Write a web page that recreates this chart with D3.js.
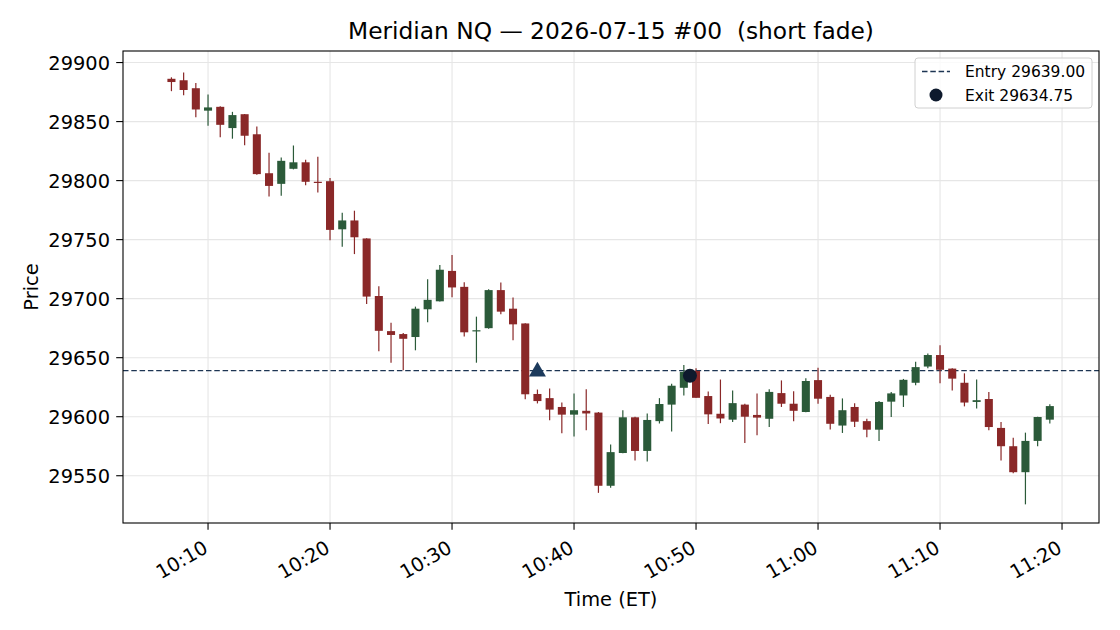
<!DOCTYPE html>
<html>
<head>
<meta charset="utf-8">
<script src="https://cdn.jsdelivr.net/npm/d3@7"></script>
<style>
  body { margin: 0; background: #fff; }
  text { font-family: "DejaVu Sans", sans-serif; fill: #000; }
</style>
</head>
<body>
<div id="chart"></div>
<script>
// one-minute bars, 10:07 .. 11:19 ET
var times = ["10:07","10:08","10:09","10:10","10:11","10:12","10:13","10:14","10:15","10:16",
    "10:17","10:18","10:19","10:20","10:21","10:22","10:23","10:24","10:25","10:26",
    "10:27","10:28","10:29","10:30","10:31","10:32","10:33","10:34","10:35","10:36",
    "10:37","10:38","10:39","10:40","10:41","10:42","10:43","10:44","10:45","10:46",
    "10:47","10:48","10:49","10:50","10:51","10:52","10:53","10:54","10:55","10:56",
    "10:57","10:58","10:59","11:00","11:01","11:02","11:03","11:04","11:05","11:06",
    "11:07","11:08","11:09","11:10","11:11","11:12","11:13","11:14","11:15","11:16",
    "11:17","11:18","11:19"];

var opens = [29886.25,29885,29878.25,29859.25,29862.5,29844.5,29856.25,29839.25,29806.25,29797.25,
    29810,29815.5,29799,29799.5,29758.75,29766.25,29751,29702.25,29672.5,29670,
    29667.5,29691,29697.75,29723.5,29710,29672.25,29675,29707.25,29691.5,29679,
    29619.25,29615.75,29608.25,29601.75,29605,29603.5,29541.5,29569.25,29599.5,29571,
    29596.25,29610.25,29624.5,29638.75,29617.5,29602.5,29597.5,29610.25,29601.5,29598.25,
    29620,29611,29604,29631,29616.75,29592.5,29608.25,29596.25,29589,29612.75,
    29618,29628.75,29642.5,29652.25,29640.75,29628.75,29612.5,29615,29590.5,29575,
    29553,29579.5,29597.5];

var highs = [29887.5,29891.5,29882.75,29873,29863,29858.25,29856.5,29845.75,29823.5,29819.5,
    29829.75,29817.75,29820.25,29802.25,29772.75,29774.5,29751.25,29710.5,29679.5,29671,
    29693.25,29716.5,29728.5,29737,29714,29684.75,29708,29713.75,29701,29679.25,
    29623,29624,29612,29619.75,29623.25,29604,29576.5,29605.5,29600,29602.75,
    29615.75,29628,29643.75,29641,29621.25,29631.5,29622.25,29611,29619.75,29623.25,
    29630.75,29621.5,29632.5,29641.5,29618.5,29615.5,29611.5,29598.25,29613.25,29621,
    29632,29646.5,29653.5,29660.5,29641,29636.75,29631.5,29621,29595.5,29582.25,
    29586.5,29600,29610.5];

var lows = [29875.75,29872.25,29853.75,29846.5,29836.75,29835.5,29830,29805,29786.5,29787.25,
    29809.5,29796,29790,29749.5,29744,29737.75,29695.5,29655.5,29645.75,29639.25,
    29656.25,29680,29697.5,29701.25,29668,29645.75,29674.5,29686.75,29664.75,29614.75,
    29611.25,29597,29586,29583.25,29588.5,29535.5,29539.75,29569,29563,29562,
    29594.25,29587.5,29618,29616,29593.75,29594.5,29595.5,29577.75,29584.25,29591.25,
    29608.25,29596.25,29603.75,29611,29589.25,29586.25,29591.25,29582.5,29579.5,29599.75,
    29608.25,29626.75,29641,29628.25,29622.25,29608.75,29607,29588.5,29563,29552,
    29525.75,29575,29594.25];

var closes = [29883.5,29876.75,29860.25,29862,29847.25,29855.5,29838,29805.5,29795.5,29816.75,
    29815.5,29799,29798,29758.25,29766.25,29752,29701.75,29672.75,29669.25,29666,
    29691.5,29699,29724.5,29709.5,29671.5,29673.25,29707.25,29689,29678.25,29619,
    29613.25,29606,29601.75,29605.5,29602.75,29541.5,29570,29599.5,29571,29597.25,
    29610.75,29626.25,29638,29616,29602,29598.5,29611.5,29600,29599.25,29621,
    29611,29605,29630.25,29615.25,29594,29605.5,29595.75,29589,29612.5,29619.75,
    29631.25,29642,29652.25,29639.75,29632.25,29612,29614,29591.25,29575,29553,
    29579.5,29599.75,29609];

var xTickLabels = ["10:10","10:20","10:30","10:40","10:50","11:00","11:10","11:20"];
var yTickValues = [29550, 29600, 29650, 29700, 29750, 29800, 29850, 29900];

var entryTime = "10:37", entryPrice = 29639.00;
var exitTime = "10:49:30", exitPrice = 29634.75;

var titleText = "Meridian NQ \u2014 2026-07-15 #00  (short fade)";

var upColor = "#2b5a39", downColor = "#8a2828";
var lineColor = "#1d3553", exitColor = "#0e1a2d";

var width = 1120, height = 630;
var margin = {top: 51, right: 21, bottom: 107, left: 123};
var innerW = width - margin.left - margin.right,
    innerH = height - margin.top - margin.bottom;

var parseTime = function (s) {
    var p = s.split(":");
    return new Date(2026, 6, 15, +p[0], +p[1], p[2] ? +p[2] : 0);
};

var bars = times.map(function (t, i) {
    return { t: parseTime(t), o: opens[i], h: highs[i], l: lows[i], c: closes[i] };
});

var minute = 60000;
var x = d3.scaleTime()
    .domain([new Date(+bars[0].t - 3.97 * minute), new Date(+bars[bars.length - 1].t + 4.03 * minute)])
    .range([0, innerW]);

var lo = d3.min(lows), hi = d3.max(highs), pad = (hi - lo) * 0.05;
var y = d3.scaleLinear()
    .domain([lo - pad + 2.5, hi + pad])
    .range([innerH, 0]);

var svg = d3.select("#chart").append("svg")
    .attr("width", width)
    .attr("height", height);

svg.append("rect").attr("width", width).attr("height", height).attr("fill", "#fff");

var g = svg.append("g")
    .attr("transform", "translate(" + margin.left + "," + margin.top + ")");

var xTicks = xTickLabels.map(parseTime);

// grid
g.append("g").selectAll("line")
    .data(yTickValues)
    .enter()
    .append("line")
    .attr("x1", 0).attr("x2", innerW)
    .attr("y1", function (d) { return y(d); })
    .attr("y2", function (d) { return y(d); })
    .attr("stroke", "#e6e6e6")
    .attr("stroke-width", 1.1);

g.append("g").selectAll("line")
    .data(xTicks)
    .enter()
    .append("line")
    .attr("y1", 0).attr("y2", innerH)
    .attr("x1", function (d) { return x(d); })
    .attr("x2", function (d) { return x(d); })
    .attr("stroke", "#e6e6e6")
    .attr("stroke-width", 1.1);

// entry line
g.append("line")
    .attr("x1", 0).attr("x2", innerW)
    .attr("y1", y(entryPrice)).attr("y2", y(entryPrice))
    .attr("stroke", lineColor)
    .attr("stroke-width", 1.3)
    .attr("stroke-dasharray", "5.5,2.8");

// candles
var bodyW = x(new Date(+bars[0].t + 0.66 * minute)) - x(bars[0].t);

var candle = g.append("g").selectAll("g")
    .data(bars)
    .enter()
    .append("g");

candle.append("line")
    .attr("x1", function (d) { return x(d.t); })
    .attr("x2", function (d) { return x(d.t); })
    .attr("y1", function (d) { return y(d.h); })
    .attr("y2", function (d) { return y(d.l); })
    .attr("stroke", function (d) { return d.c >= d.o ? upColor : downColor; })
    .attr("stroke-width", 1.2);

candle.append("rect")
    .attr("x", function (d) { return x(d.t) - bodyW / 2; })
    .attr("width", bodyW)
    .attr("y", function (d) { return y(Math.max(d.o, d.c)); })
    .attr("height", function (d) { return Math.max(1.2, Math.abs(y(d.o) - y(d.c))); })
    .attr("fill", function (d) { return d.c >= d.o ? upColor : downColor; });

// entry / exit markers
var ex = x(parseTime(entryTime)), ey = y(entryPrice);
g.append("path")
    .attr("d", d3.symbol().type(d3.symbolTriangle).size(125)())
    .attr("transform", "translate(" + ex + "," + (ey + 1) + ")")
    .attr("fill", "#1c3a5c");

g.append("circle")
    .attr("cx", x(parseTime(exitTime)))
    .attr("cy", y(exitPrice))
    .attr("r", 7)
    .attr("fill", exitColor);

// spines
g.append("rect")
    .attr("width", innerW).attr("height", innerH)
    .attr("fill", "none")
    .attr("stroke", "#000")
    .attr("stroke-width", 1.1);

// y axis
var yAxis = g.append("g");
yAxis.selectAll("line")
    .data(yTickValues)
    .enter()
    .append("line")
    .attr("x1", -6.8).attr("x2", 0)
    .attr("y1", function (d) { return y(d); })
    .attr("y2", function (d) { return y(d); })
    .attr("stroke", "#000")
    .attr("stroke-width", 1.1);
yAxis.selectAll("text")
    .data(yTickValues)
    .enter()
    .append("text")
    .attr("x", -13)
    .attr("y", function (d) { return y(d); })
    .attr("dy", "0.36em")
    .attr("text-anchor", "end")
    .attr("font-size", "19.4px")
    .text(function (d) { return d; });

// x axis
var xAxis = g.append("g");
xAxis.selectAll("line")
    .data(xTicks)
    .enter()
    .append("line")
    .attr("y1", innerH).attr("y2", innerH + 6.8)
    .attr("x1", function (d) { return x(d); })
    .attr("x2", function (d) { return x(d); })
    .attr("stroke", "#000")
    .attr("stroke-width", 1.1);
xAxis.selectAll("text")
    .data(xTicks)
    .enter()
    .append("text")
    .attr("transform", function (d) {
        return "translate(" + (x(d) - 6) + "," + (innerH + 16) + ") rotate(-30)";
    })
    .attr("text-anchor", "end")
    .attr("dy", "0.75em")
    .attr("font-size", "19.4px")
    .text(function (d, i) { return xTickLabels[i]; });

// labels
svg.append("text")
    .attr("x", margin.left + innerW / 2)
    .attr("y", 606)
    .attr("text-anchor", "middle")
    .attr("font-size", "19.4px")
    .text("Time (ET)");

svg.append("text")
    .attr("transform", "translate(38," + (margin.top + innerH / 2) + ") rotate(-90)")
    .attr("text-anchor", "middle")
    .attr("font-size", "19.4px")
    .text("Price");

svg.append("text")
    .attr("x", margin.left + innerW / 2)
    .attr("y", 39)
    .attr("text-anchor", "middle")
    .attr("font-size", "23.3px")
    .style("white-space", "pre")
    .text(titleText);

// legend
var lg = svg.append("g").attr("transform", "translate(915,58)");
lg.append("rect")
    .attr("width", 177).attr("height", 50)
    .attr("rx", 3)
    .attr("fill", "#fff").attr("fill-opacity", 0.8)
    .attr("stroke", "#d0d0d0");
lg.append("line")
    .attr("x1", 7).attr("x2", 35)
    .attr("y1", 13.5).attr("y2", 13.5)
    .attr("stroke", lineColor)
    .attr("stroke-width", 1.3)
    .attr("stroke-dasharray", "5.5,2.8");
lg.append("circle")
    .attr("cx", 21).attr("cy", 37)
    .attr("r", 6.5)
    .attr("fill", exitColor);
lg.append("text")
    .attr("x", 50).attr("y", 13.5)
    .attr("dy", "0.36em")
    .attr("font-size", "15.5px")
    .text("Entry " + entryPrice.toFixed(2));
lg.append("text")
    .attr("x", 50).attr("y", 37)
    .attr("dy", "0.36em")
    .attr("font-size", "15.5px")
    .text("Exit " + exitPrice.toFixed(2));
</script>
</body>
</html>
